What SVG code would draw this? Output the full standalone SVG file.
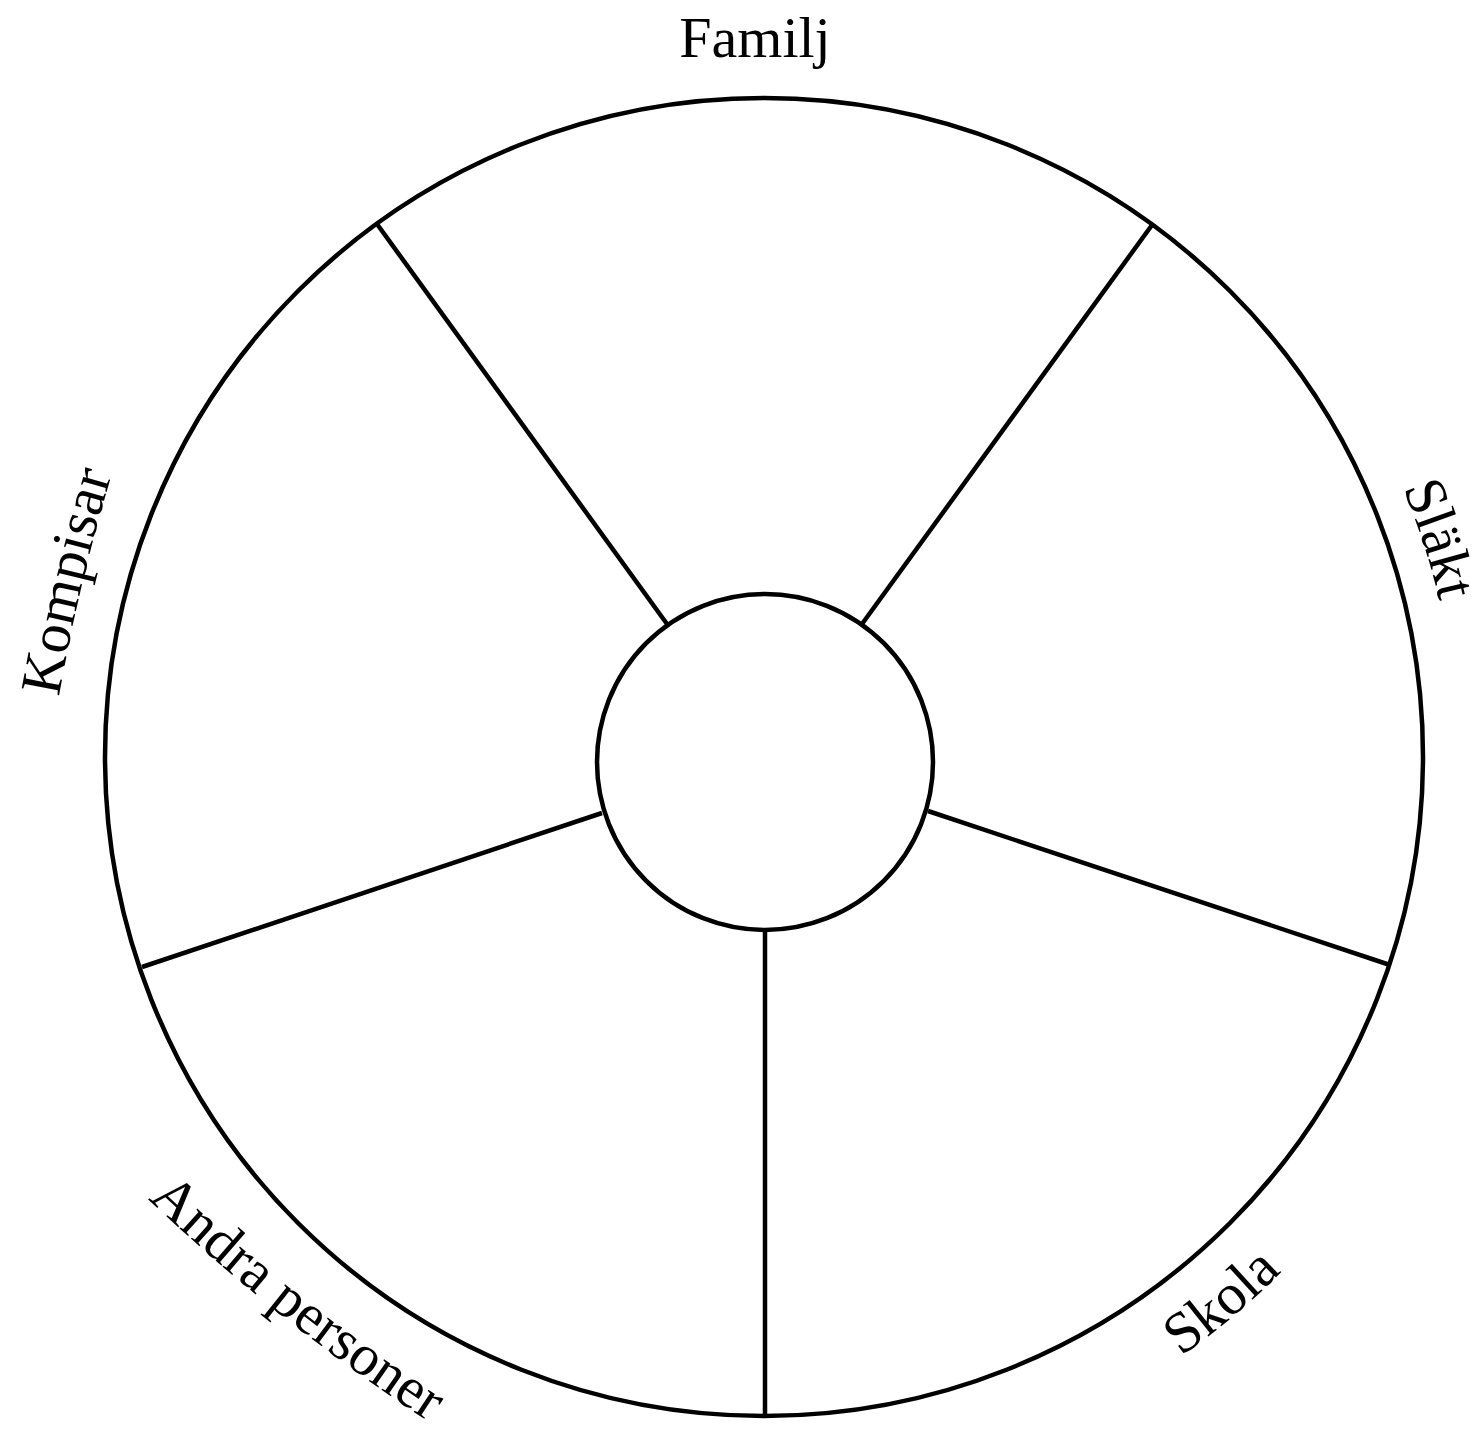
<svg xmlns="http://www.w3.org/2000/svg" width="1483" height="1439" viewBox="0 0 1483 1439">
<style>
.ln{fill:none;stroke:#000;stroke-width:4.5}
.lbl{font-family:"Liberation Serif","Times New Roman",serif;font-size:58px;fill:#000}
</style>
<defs>
<path id="pSlakt" d="M909.3,79.4 A693,693 0 0 1 1278.2,1221.6"/>
<path id="pKompisar" d="M36.7,860.2 A2000,2000 0 0 1 165.3,318.6"/>
<path id="pSkola" d="M514.3,1443 A730,730 0 0 0 1482.9,630.2"/>
<path id="pAndra" d="M-3.4,1038.7 A2000,2000 0 0 0 619.6,1532.3"/>
</defs>
<rect width="1483" height="1439" fill="#fff"/>
<g id="outer-circle"><circle class="ln" cx="764" cy="757" r="659"/></g>
<g id="connectors">
<line class="ln" x1="667" y1="624" x2="377" y2="224"/>
<line class="ln" x1="862" y1="624" x2="1152" y2="225"/>
<line class="ln" x1="928" y1="811" x2="1390" y2="965"/>
<line class="ln" x1="602" y1="813" x2="142" y2="967"/>
<line class="ln" x1="765" y1="930" x2="765" y2="1416"/>
</g>
<g id="center"><circle class="ln" cx="765" cy="762" r="168" fill="#fff"/></g>
<g id="label-familj"><text class="lbl" x="755" y="57" text-anchor="middle">Familj</text></g>
<g id="label-slakt"><text class="lbl" text-anchor="middle"><textPath href="#pSlakt" startOffset="50%">Släkt</textPath></text></g>
<g id="label-skola"><text class="lbl" text-anchor="middle"><textPath href="#pSkola" startOffset="50%">Skola</textPath></text></g>
<g id="label-andra"><text class="lbl" text-anchor="middle" font-size="64"><textPath href="#pAndra" startOffset="50%">Andra personer</textPath></text></g>
<g id="label-kompisar"><text class="lbl" text-anchor="middle" font-size="62"><textPath href="#pKompisar" startOffset="50%">Kompisar</textPath></text></g>
</svg>
